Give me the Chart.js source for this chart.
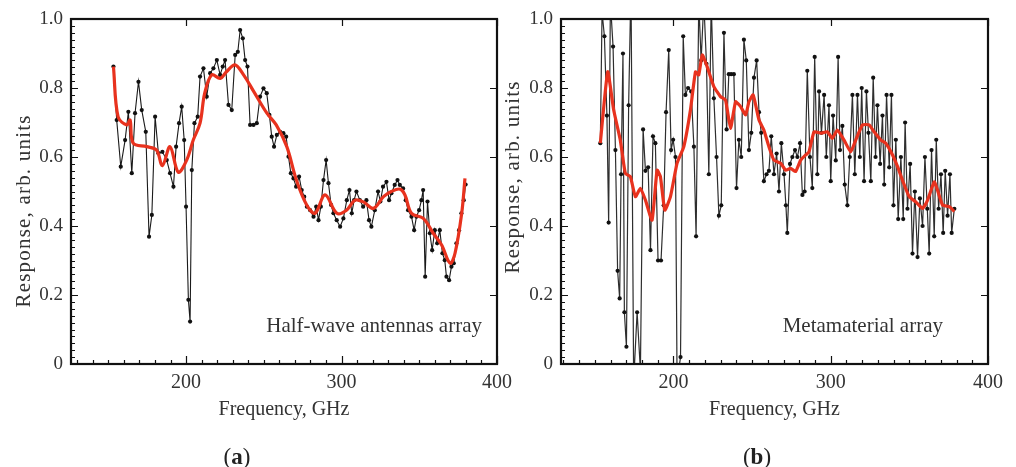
<!DOCTYPE html>
<html><head><meta charset="utf-8">
<script src="https://cdn.jsdelivr.net/npm/chart.js@4.4.1/dist/chart.umd.min.js"></script>
<style>
html,body{margin:0;padding:0;background:#fff;width:1016px;height:467px;overflow:hidden;}
#ca{position:absolute;left:0;top:0;}
#cb{position:absolute;left:500px;top:0;}
.lab{position:absolute;font-family:'Liberation Serif',serif;font-size:23px;color:#222;line-height:23px;transform:translate(-50%,-50%);white-space:nowrap;}
</style></head><body>
<canvas id="ca" width="520" height="467"></canvas>
<canvas id="cb" width="516" height="467"></canvas>
<div class="lab" style="left:237px;top:456px">(<b>a</b>)</div>
<div class="lab" style="left:757px;top:456px">(<b>b</b>)</div>
<script>
// ---- tick labels / titles ----
const xTickValues = [200, 300, 400];
const xTickLabels = ['200', '300', '400'];
const yTickValues = [0, 0.2, 0.4, 0.6, 0.8, 1.0];
const yTickLabels = ['0', '0.2', '0.4', '0.6', '0.8', '1.0'];
const xTitle = 'Frequency, GHz';
const yTitle = 'Response, arb. units';
const noteA = 'Half-wave antennas array';
const noteB = 'Metamaterial array';

// ---- panel (a): raw measured response ----
const freqA = [153.3,155.4,158.0,160.8,162.9,165.1,167.2,169.4,171.5,174.1,
  176.2,178.0,180.1,182.2,184.8,187.6,189.7,191.9,193.6,195.5,
  197.2,198.8,200.0,201.5,202.6,203.7,205.4,207.5,209.0,211.2,
  213.3,215.5,217.6,219.8,221.9,223.6,225.1,227.3,229.4,231.6,
  233.3,234.8,236.5,238.0,239.5,241.2,243.4,245.5,247.6,249.8,
  251.9,253.6,255.1,256.6,258.4,260.5,262.6,264.4,265.9,267.4,
  269.1,270.8,272.7,274.4,276.0,277.7,279.8,282.0,283.7,285.2,
  286.7,288.4,290.1,291.6,293.3,294.8,296.9,299.1,301.2,303.4,
  305.1,306.6,308.1,309.6,311.8,313.9,316.0,317.7,319.2,321.4,
  323.5,325.0,326.7,328.9,330.6,332.1,334.2,336.0,337.5,339.6,
  341.3,342.8,345.0,346.7,348.2,349.9,351.4,352.5,353.8,355.3,
  356.8,358.3,360.0,361.5,363.2,364.9,366.4,367.5,369.2,370.7,
  372.2,373.9,375.6,377.1,378.6,379.8];
const respA = [0.862,0.707,0.572,0.649,0.731,0.553,0.727,0.818,0.736,0.673,
  0.369,0.432,0.717,0.611,0.615,0.591,0.553,0.514,0.630,0.698,
  0.746,0.649,0.456,0.186,0.123,0.562,0.698,0.717,0.833,0.857,
  0.775,0.843,0.857,0.881,0.838,0.862,0.881,0.751,0.736,0.896,
  0.905,0.968,0.944,0.881,0.862,0.693,0.693,0.698,0.775,0.799,
  0.785,0.722,0.659,0.630,0.664,0.673,0.669,0.659,0.601,0.553,
  0.538,0.514,0.543,0.504,0.485,0.456,0.446,0.427,0.456,0.417,
  0.456,0.533,0.591,0.524,0.461,0.437,0.417,0.398,0.422,0.475,
  0.504,0.437,0.475,0.500,0.475,0.456,0.475,0.417,0.398,0.446,
  0.500,0.471,0.514,0.528,0.475,0.495,0.519,0.533,0.519,0.509,
  0.475,0.446,0.427,0.388,0.427,0.446,0.475,0.504,0.253,0.471,
  0.379,0.330,0.388,0.350,0.388,0.321,0.301,0.253,0.243,0.282,
  0.292,0.350,0.388,0.437,0.475,0.520];

// ---- panel (a): smoothed response ----
const smoothFreqA = [153.3,156.3,161.9,164.0,166.0,174.7,181.0,184.8,189.7,195.0,
  200.4,204.7,209.0,212.0,216.5,222.0,226.0,231.5,237.0,243.0,
  252.0,258.0,264.8,271.0,277.6,283.0,289.4,297.0,303.0,308.7,
  314.0,320.5,327.0,332.0,337.6,340.8,345.0,352.6,359.0,364.4,
  369.8,373.0,377.3,379.4];
const smoothRespA = [0.862,0.716,0.693,0.707,0.640,0.630,0.620,0.575,0.630,0.556,
  0.591,0.650,0.698,0.785,0.838,0.828,0.847,0.867,0.838,0.794,
  0.727,0.693,0.630,0.533,0.461,0.437,0.490,0.437,0.445,0.475,
  0.470,0.451,0.485,0.500,0.507,0.490,0.437,0.422,0.379,0.345,
  0.292,0.321,0.437,0.538];

// ---- panel (b): raw measured response ----
const freqB = [153.5,154.6,156.1,157.7,158.8,159.9,161.6,163.1,164.5,165.8,
  166.7,167.9,168.8,170.1,171.5,173.0,174.7,176.9,179.0,180.7,
  182.2,183.9,185.4,187.0,188.5,190.2,192.1,193.8,195.3,197.0,
  198.5,199.8,201.3,202.3,204.5,206.2,207.6,209.3,211.3,213.0,
  214.4,216.1,217.6,219.3,221.0,222.5,224.0,225.7,227.4,228.9,
  230.4,232.1,233.8,235.2,236.7,238.4,240.1,241.6,243.1,244.8,
  246.3,248.0,249.5,251.2,252.9,254.4,255.8,257.5,259.2,260.7,
  262.2,263.9,265.6,267.1,268.6,270.3,271.5,272.4,274.1,275.6,
  277.3,278.8,280.5,282.0,283.4,285.1,286.8,288.3,289.8,291.5,
  292.6,294.1,295.8,297.2,298.9,300.0,301.5,303.2,304.7,305.9,
  307.4,308.9,310.6,312.1,313.8,315.3,317.0,318.5,319.7,321.2,
  322.7,324.0,325.5,327.0,328.5,329.7,331.4,332.9,334.0,335.5,
  337.2,338.6,339.9,341.4,342.9,344.6,346.1,347.3,348.8,350.5,
  352.0,353.5,355.2,356.7,358.4,359.9,361.4,362.6,364.1,365.8,
  367.1,368.6,370.1,371.5,372.8,374.3,375.8,376.9,378.6];
const respB = [0.64,1.02,0.95,0.72,0.41,1.05,0.92,0.62,0.27,0.19,
  0.55,0.90,0.15,0.05,0.75,1.10,-0.05,0.15,-0.02,0.68,
  0.56,0.57,0.33,0.66,0.64,0.30,0.30,0.46,0.73,0.91,
  0.62,0.65,0.60,-0.05,0.02,0.95,0.78,0.80,0.79,0.63,
  0.37,1.05,0.88,1.05,0.87,0.55,1.05,0.77,0.60,0.43,
  0.46,0.96,0.68,0.84,0.84,0.84,0.51,0.65,0.60,0.94,
  0.88,0.62,0.67,0.83,0.88,0.73,0.67,0.53,0.55,0.56,
  0.66,0.55,0.61,0.50,0.64,0.55,0.46,0.38,0.58,0.60,
  0.62,0.60,0.64,0.49,0.50,0.85,0.60,0.51,0.89,0.55,
  0.79,0.67,0.78,0.60,0.75,0.53,0.72,0.59,0.89,0.62,
  0.69,0.52,0.46,0.60,0.78,0.55,0.78,0.60,0.80,0.53,
  0.79,0.67,0.53,0.83,0.60,0.75,0.58,0.72,0.52,0.78,
  0.57,0.78,0.46,0.65,0.42,0.60,0.42,0.70,0.45,0.58,
  0.32,0.50,0.31,0.48,0.40,0.60,0.45,0.32,0.62,0.37,
  0.65,0.45,0.55,0.38,0.56,0.43,0.55,0.38,0.45];

// ---- panel (b): smoothed response ----
const smoothFreqB = [153.5,158.2,162.0,166.2,169.4,172.6,175.8,179.0,182.2,186.4,
  189.6,191.7,194.5,198.1,202.3,206.6,210.8,214.0,216.1,218.3,
  221.4,225.7,229.9,233.1,236.3,239.5,242.7,245.9,248.0,250.7,
  254.4,257.5,260.7,263.9,268.2,271.3,274.5,277.7,280.9,284.1,
  286.2,289.4,293.6,297.9,301.0,304.2,308.5,312.7,315.9,320.2,
  324.4,327.6,331.8,335.0,339.3,342.5,345.6,349.9,354.1,358.4,
  361.6,365.8,367.9,371.1,375.4,378.6];
const smoothRespB = [0.640,0.847,0.736,0.649,0.553,0.543,0.485,0.509,0.475,0.417,
  0.562,0.543,0.446,0.485,0.582,0.630,0.736,0.847,0.838,0.896,
  0.862,0.804,0.775,0.765,0.683,0.760,0.746,0.722,0.760,0.780,
  0.707,0.678,0.630,0.591,0.582,0.562,0.567,0.558,0.591,0.606,
  0.615,0.673,0.669,0.673,0.654,0.678,0.649,0.615,0.649,0.693,
  0.693,0.673,0.649,0.640,0.606,0.572,0.533,0.485,0.470,0.451,
  0.475,0.528,0.504,0.461,0.456,0.442];

const pts = (xs, ys) => xs.map((v, i) => ({x: v, y: ys[i]}));
const SERIF = "'Liberation Serif', 'Times New Roman', serif";

function decor(cfg) {
  return {
    id: 'decor',
    afterDatasetsDraw(chart) {
      const {ctx, chartArea: a, scales: {x, y}} = chart;
      ctx.save();
      ctx.strokeStyle = '#111';
      ctx.lineWidth = 1.2;
      ctx.beginPath();
      for (let g = Math.ceil(x.min / 10); g * 10 <= x.max; g++) {
        const px = Math.round(x.getPixelForValue(g * 10)) + 0.5;
        const major = g % 10 === 0;
        ctx.moveTo(px, a.bottom); ctx.lineTo(px, a.bottom - (major ? 8 : 4));
        if (major) { ctx.moveTo(px, a.top); ctx.lineTo(px, a.top + 7); }
      }
      for (let i = 0; i <= 50; i++) {
        const py = Math.round(y.getPixelForValue(i / 50)) + 0.5;
        const major = i % 10 === 0;
        ctx.moveTo(a.left, py); ctx.lineTo(a.left + (major ? 7 : 4), py);
        if (major) { ctx.moveTo(a.right, py); ctx.lineTo(a.right - 7, py); }
      }
      ctx.stroke();
      ctx.lineWidth = 2.2;
      ctx.strokeRect(a.left, a.top, a.right - a.left, a.bottom - a.top);

      // y-axis title
      ctx.fillStyle = '#333';
      ctx.save();
      ctx.translate(cfg.yTitleX, cfg.yTitleY);
      ctx.rotate(-Math.PI / 2);
      ctx.font = '21px ' + SERIF;
      try { ctx.letterSpacing = '1.2px'; } catch (e) {}
      ctx.textAlign = 'center';
      ctx.textBaseline = 'middle';
      ctx.fillText(yTitle, 0, 0);
      ctx.restore();

      // in-plot note
      ctx.font = '21px ' + SERIF;
      ctx.textAlign = 'right';
      ctx.textBaseline = 'middle';
      ctx.fillText(cfg.note, cfg.noteX, cfg.noteY);
      ctx.restore();
    }
  };
}

function makeChart(id, cfg) {
  return new Chart(document.getElementById(id), {
    type: 'line',
    data: {
      datasets: [
        {data: cfg.smooth, borderColor: '#e8321e', borderWidth: 3.2, pointRadius: 0,
         tension: cfg.tension, fill: false, clip: 0},
        {data: cfg.raw, borderColor: cfg.lineColor, borderWidth: cfg.lineWidth, pointRadius: 2.1,
         pointBackgroundColor: '#111', pointBorderWidth: 0, tension: 0, fill: false, clip: 0}
      ]
    },
    options: {
      responsive: false, animation: false, events: [],
      plugins: {legend: {display: false}, tooltip: {enabled: false}},
      layout: {padding: {left: 0, top: 19, right: cfg.padRight, bottom: 43}},
      scales: {
        x: {
          type: 'linear', min: cfg.xmin, max: 400,
          afterBuildTicks: s => { s.ticks = xTickValues.map(v => ({value: v})); },
          afterFit: s => { s.height = 60; s.paddingLeft = 0; s.paddingRight = 0; },
          grid: {display: false, drawTicks: false}, border: {display: false},
          ticks: {padding: 7, color: '#333', maxRotation: 0, autoSkip: false,
                  font: {family: SERIF, size: 20},
                  callback: v => xTickLabels[xTickValues.indexOf(v)]},
          title: {display: true, text: xTitle, color: '#333',
                  font: {family: SERIF, size: 20}, padding: {top: 0, bottom: 2}}
        },
        y: {
          type: 'linear', min: 0, max: 1,
          afterBuildTicks: s => { s.ticks = yTickValues.map(v => ({value: v})); },
          afterFit: s => { s.width = cfg.yWidth; s.paddingTop = 0; s.paddingBottom = 0; },
          grid: {display: false, drawTicks: false}, border: {display: false},
          ticks: {padding: 8, color: '#333', font: {family: SERIF, size: 19},
                  callback: v => yTickLabels[yTickValues.indexOf(v)]}
        }
      }
    },
    plugins: [decor(cfg)]
  });
}

makeChart('ca', {
  raw: pts(freqA, respA), smooth: pts(smoothFreqA, smoothRespA),
  tension: 0.35, lineColor: '#1a1a1a', lineWidth: 1.1, xmin: 126, yWidth: 71, padRight: 23,
  yTitleX: 24, yTitleY: 211, note: noteA, noteX: 482, noteY: 326
});
makeChart('cb', {
  raw: pts(freqB, respB), smooth: pts(smoothFreqB, smoothRespB),
  tension: 0.15, lineColor: '#2e2e2e', lineWidth: 1.2, xmin: 128.5, yWidth: 61, padRight: 28,
  yTitleX: 13.5, yTitleY: 177, note: noteB, noteX: 443, noteY: 326
});
</script>
</body></html>
